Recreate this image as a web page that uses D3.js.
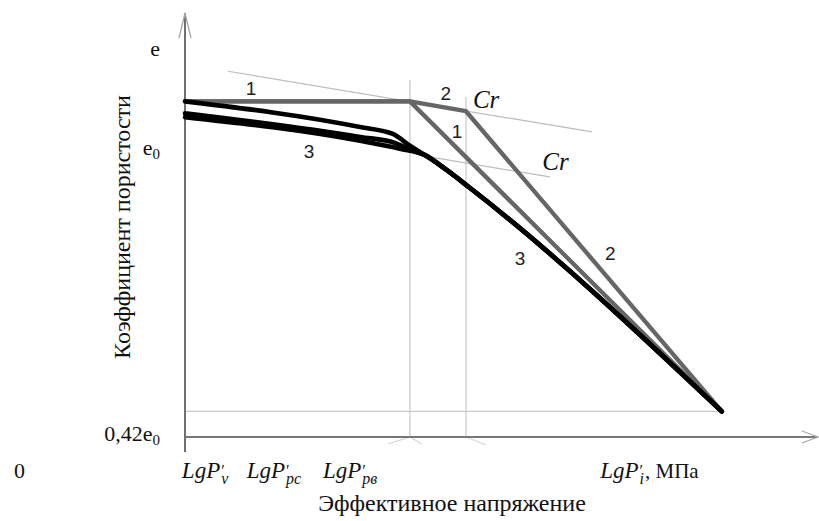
<!DOCTYPE html>
<html><head><meta charset="utf-8">
<script src="https://cdn.jsdelivr.net/npm/d3@7"></script>
<style>html,body{margin:0;padding:0;background:#fff;} svg{display:block;}</style>
</head><body>
<svg id="chart" width="819" height="521"></svg>
<script>
// Compression curves: void ratio e against the log of effective stress
const stressAxis = [0, 10];      // lg P' (relative units)
const voidAxis = [0.42, 1.2];    // void ratio e; 0.42·e0 sits on the stress axis

const curve1 = [[0, 1.10], [3.57, 1.10], [8.52, 0.472]];
const curve2 = [[0, 1.10], [3.57, 1.10], [4.46, 1.08], [8.52, 0.472]];
const curve3a = [[0, 1.10], [2.78, 1.048], [3.30, 1.034], [3.57, 1.010]];
const curve3b = [[0, 1.076], [2.78, 1.028], [3.33, 1.016], [3.60, 1.001]];
const curve3c = [[0, 1.068], [2.78, 1.020], [3.41, 1.004]];
const tail3 = [[3.81, 0.991], [4.13, 0.963], [4.52, 0.925], [8.52, 0.472]];
const crLine1 = [[0.68, 1.161], [6.46, 1.038]];
const crLine2 = [[3.81, 0.989], [5.79, 0.947]];
const yieldStress = [3.57, 4.46];
const yieldTopE = [1.143, 1.109];
const finalState = [8.52, 0.472];

const yTickValues = [1.2, 1.0, 0.42];
const yTickBase = ["e", "e", "0,42e"];
const yTickSub = ["", "0", "0"];

const xTickValues = [-0.05, 0.98, 2.19, 6.59];
const xTickSub = ["v", "pc", "pв", "i"];
const xTickUnit = ["", "", "", ", МПа"];

const curveNames = ["1", "2", "1", "2", "3", "3"];
const curveNameX = [1.05, 4.14, 4.32, 6.75, 1.97, 5.32];
const curveNameE = [1.113, 1.103, 1.026, 0.779, 0.985, 0.768];
const crX = [4.57, 5.67];
const crE = [1.087, 0.961];

const svg = d3.select("#chart");
const x = d3.scaleLinear().domain(stressAxis).range([185, 815]);
const y = d3.scaleLinear().domain(voidAxis).range([437, 52]);

const serif = "'Liberation Serif', 'Times New Roman', serif";
const sans = "'Liberation Sans', Arial, sans-serif";

const straight = d3.line().x(d => x(d[0])).y(d => y(d[1]));
const smooth = d3.line().x(d => x(d[0])).y(d => y(d[1])).curve(d3.curveMonotoneX);

// guide lines
const guides = svg.append("g").attr("fill", "none");
yieldStress.forEach((s, i) => {
  guides.append("line")
    .attr("x1", x(s)).attr("x2", x(s))
    .attr("y1", y(yieldTopE[i])).attr("y2", y(voidAxis[0]))
    .attr("stroke", "#d2d2d2").attr("stroke-width", 1.5);
});
// small flares under the yield lines
const x0 = x(yieldStress[0]), x1 = x(yieldStress[1]), yb = y(voidAxis[0]);
guides.append("path")
  .attr("d", `M${x0 - 22},${yb + 7}L${x0},${yb}L${x0 + 12},${yb + 7}M${x1},${yb}L${x1 + 20},${yb + 8}`)
  .attr("stroke", "#d6d6d6").attr("stroke-width", 1.2);
guides.append("line")
  .attr("x1", x(0)).attr("x2", x(finalState[0]))
  .attr("y1", y(finalState[1])).attr("y2", y(finalState[1]))
  .attr("stroke", "#c8c8c8").attr("stroke-width", 1.3);
[crLine1, crLine2].forEach(c => {
  guides.append("path").attr("d", straight(c))
    .attr("stroke", "#bdbdbd").attr("stroke-width", 1.2);
});

// axes with arrowheads
const axes = svg.append("g").attr("fill", "none");
const ax = x(0), ay = y(voidAxis[0]);
axes.append("line").attr("x1", ax).attr("x2", ax).attr("y1", 13).attr("y2", ay + 15)
  .attr("stroke", "#707070").attr("stroke-width", 2);
axes.append("path").attr("d", `M${ax - 6},${38}L${ax},${13}L${ax + 6},${38}`)
  .attr("stroke", "#a8a8a8").attr("stroke-width", 1.3);
axes.append("line").attr("x1", ax).attr("x2", 818).attr("y1", ay).attr("y2", ay)
  .attr("stroke", "#777").attr("stroke-width", 2);
axes.append("path").attr("d", `M${802},${ay - 6}L${818},${ay}L${802},${ay + 6}`)
  .attr("stroke", "#a8a8a8").attr("stroke-width", 1.3);

// curves 1 and 2 (grey)
const lines = svg.append("g").attr("fill", "none")
  .attr("stroke-linejoin", "round").attr("stroke-linecap", "round");
[curve2, curve1].forEach(c => {
  lines.append("path").attr("d", straight(c))
    .attr("stroke", "#666").attr("stroke-width", 4.3);
});
// curve family 3 (black)
[curve3c, curve3b, curve3a].forEach(c => {
  lines.append("path").attr("d", smooth(c.concat(tail3)))
    .attr("stroke", "#000").attr("stroke-width", 4.6);
});

// y tick labels
const yLab = svg.append("g").attr("font-family", serif).attr("font-size", 22).attr("fill", "#111");
yTickValues.forEach((v, i) => {
  const t = yLab.append("text").attr("x", 160).attr("y", y(v)).attr("dy", "0.18em")
    .attr("text-anchor", "end");
  t.append("tspan").text(yTickBase[i]);
  if (yTickSub[i]) t.append("tspan").attr("font-size", 15).attr("dy", 4).text(yTickSub[i]);
});
yLab.append("text").attr("x", 14).attr("y", 478).text("0");

// width of the prime mark at the subscript size
const probe = svg.append("text").attr("font-family", serif).attr("font-size", 16).text("′");
const primeW = probe.node().getComputedTextLength();
probe.remove();

// x tick labels: LgP' with subscripts, each as one text element
const xLab = svg.append("g").attr("fill", "#111").attr("font-family", serif);
xTickValues.forEach((v, i) => {
  const t = xLab.append("text").attr("x", x(v)).attr("y", 478)
    .attr("font-size", 23).attr("font-style", "italic");
  t.append("tspan").text("LgP");
  t.append("tspan").attr("font-size", 16).attr("font-style", "normal")
    .attr("dx", 1).attr("dy", -2).text("′");
  t.append("tspan").attr("font-size", 16)
    .attr("dx", -primeW).attr("dy", 8).text(xTickSub[i]);
  if (xTickUnit[i]) {
    t.append("tspan").attr("font-style", "normal").attr("font-size", 21)
      .attr("dx", 1).attr("dy", -6).text(xTickUnit[i]);
  }
});

// axis titles
svg.append("text").attr("transform", "translate(130,227) rotate(-90)")
  .attr("text-anchor", "middle").attr("font-family", serif).attr("font-size", 24)
  .attr("fill", "#111").text("Коэффициент пористости");
svg.append("text").attr("x", 452).attr("y", 511)
  .attr("text-anchor", "middle").attr("font-family", serif).attr("font-size", 24)
  .attr("fill", "#111").text("Эффективное напряжение");

// curve numbers and Cr marks
const notes = svg.append("g");
curveNames.forEach((n, i) => {
  notes.append("text").attr("x", x(curveNameX[i])).attr("y", y(curveNameE[i]))
    .attr("text-anchor", "middle").attr("font-family", sans).attr("font-size", 19)
    .attr("fill", "#222").text(n);
});
crX.forEach((c, i) => {
  notes.append("text").attr("x", x(c)).attr("y", y(crE[i]))
    .attr("font-family", serif).attr("font-style", "italic").attr("font-size", 25)
    .attr("fill", "#111").text("Cr");
});
</script>
</body></html>
